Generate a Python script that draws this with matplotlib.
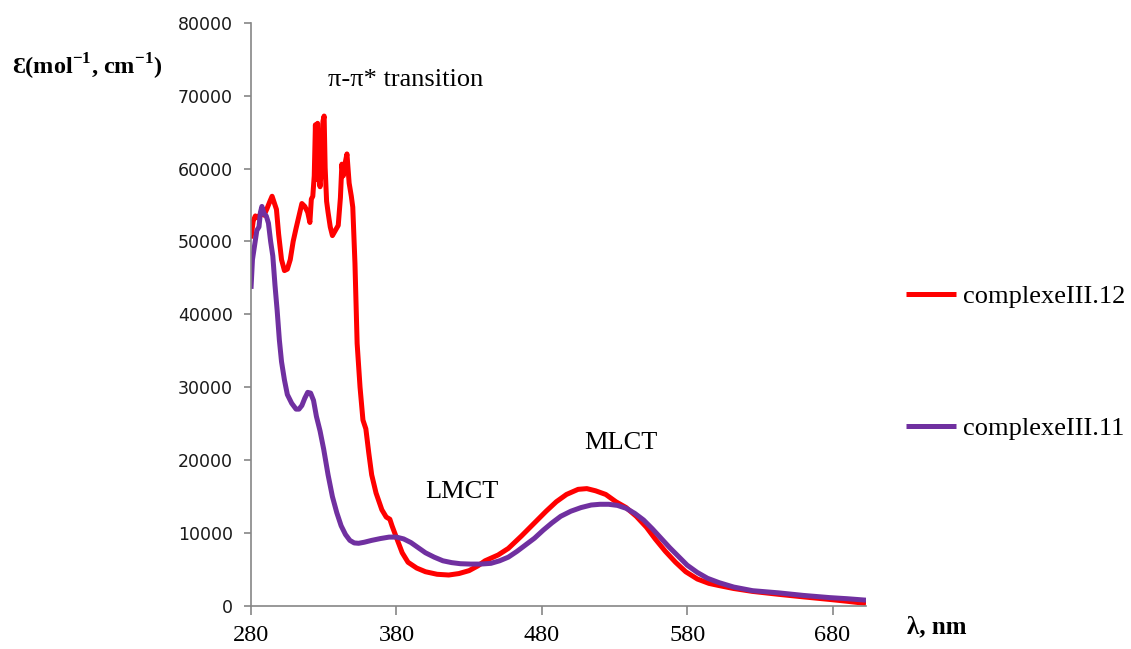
import matplotlib
matplotlib.use("Agg")
import matplotlib.pyplot as plt
from matplotlib.ticker import FixedLocator

plt.rcParams['mathtext.fontset'] = 'custom'
plt.rcParams['mathtext.rm'] = 'Liberation Serif'
plt.rcParams['mathtext.bf'] = 'Liberation Serif:bold'

# Absorption spectrum of complexe III.12 (wavelength in nm, epsilon)
wl_12 = [280, 281.5, 283, 285, 287, 289, 291, 293, 294.5, 296, 297.5, 299, 301, 303,
         305, 307, 309, 311, 313, 315, 317, 319, 320.5, 321.5, 322.5, 323.5, 324.3,
         325, 325.8, 326.6, 327.5, 328.5, 329.5, 330.3, 331, 332, 333, 334.5, 336,
         338, 340, 341.5, 342.5, 343.5, 345, 346, 347.5, 349, 350, 351.5, 353, 355,
         357, 359, 361, 363, 366, 370, 373, 375.5, 377, 380, 384, 388, 394, 400,
         408, 416, 423, 430, 436, 441, 450, 457, 466, 475, 483, 490, 497, 505, 511,
         517, 524, 531, 538, 545, 552, 558, 565, 572, 579, 587, 595, 602, 612, 625,
         643, 660, 678, 690, 703]
eps_12 = [50400, 52800, 53500, 53200, 54000, 53600, 54500, 55500, 56200, 55300, 54400,
          51000, 47500, 46000, 46200, 47500, 50000, 51800, 53500, 55200, 54800, 54000,
          52600, 55800, 56200, 59000, 66000, 58500, 66200, 59000, 57500, 60500, 66500,
          67200, 60100, 55500, 54000, 52000, 50800, 51500, 52200, 56000, 60600, 59000,
          61000, 62000, 58000, 56200, 54700, 47000, 36000, 30000, 25500, 24300, 21000,
          18000, 15500, 13200, 12200, 11900, 11000, 9400, 7300, 6000, 5200, 4700,
          4350, 4250, 4450, 4850, 5500, 6200, 7000, 7900, 9600, 11400, 13000, 14300,
          15300, 16000, 16100, 15800, 15300, 14300, 13500, 12300, 10800, 9200, 7500,
          6000, 4700, 3700, 3100, 2800, 2400, 2000, 1600, 1250, 900, 650, 350]

# Absorption spectrum of complexe III.11
wl_11 = [280, 281, 282.5, 284, 285.5, 286.5, 287.5, 289, 290.5, 292, 293.5, 295, 296.5,
         298, 299.5, 301, 303, 305, 308, 311, 313, 315, 317, 319, 321, 323, 325, 327.5,
         330, 333, 336, 339, 342, 345, 348, 351, 354, 358, 363, 369, 375, 380, 385,
         390, 395, 400, 406, 412, 418, 424, 431, 438, 445, 451, 457, 463, 469, 475,
         481, 487, 493, 500, 507, 514, 520, 526, 532, 538, 544, 550, 556, 562, 568,
         574, 580, 587, 594, 602, 612, 625, 643, 660, 678, 690, 703]
eps_11 = [43500, 47500, 49500, 51500, 52000, 54000, 54800, 53800, 53500, 52500, 50000,
          48000, 44000, 40500, 36500, 33500, 31000, 29000, 27800, 27000, 27000, 27500,
          28500, 29300, 29200, 28200, 26000, 24000, 21500, 18000, 15000, 12800, 11000,
          9800, 9000, 8650, 8600, 8750, 9000, 9250, 9450, 9450, 9200, 8700, 8000, 7300,
          6700, 6200, 5950, 5800, 5750, 5750, 5850, 6200, 6700, 7500, 8400, 9300, 10400,
          11400, 12300, 13000, 13500, 13850, 13950, 13950, 13800, 13400, 12700, 11800,
          10600, 9300, 8000, 6800, 5600, 4600, 3800, 3200, 2600, 2100, 1800, 1450,
          1150, 1000, 800]

x_ticks = [280, 380, 480, 580, 680]
y_ticks = [0, 10000, 20000, 30000, 40000, 50000, 60000, 70000, 80000]

RED = '#FF0000'
PURPLE = '#7030A0'
AXIS_GREY = '#868686'
SERIF = ['Liberation Serif', 'DejaVu Serif']

W, H = 1131, 649
fig = plt.figure(figsize=(W / 100, H / 100), dpi=100)
ax = fig.add_axes([251 / W, 1 - 606 / H, (866 - 251) / W, (606 - 22.7) / H])

l12, = ax.plot(wl_12, eps_12, color=RED, lw=3.6, solid_capstyle='butt',
               label='complexeIII.12')
l11, = ax.plot(wl_11, eps_11, color=PURPLE, lw=3.6, solid_capstyle='butt',
               label='complexeIII.11')

ax.set_xlim(280, 703)
ax.set_ylim(0, 80000)
ax.xaxis.set_major_locator(FixedLocator(x_ticks))
ax.yaxis.set_major_locator(FixedLocator(y_ticks))

for side in ('top', 'right'):
    ax.spines[side].set_visible(False)
for side in ('left', 'bottom'):
    ax.spines[side].set_color(AXIS_GREY)
    ax.spines[side].set_linewidth(1.2)

ax.tick_params(axis='x', direction='out', length=6.5, width=1.2, color=AXIS_GREY,
               pad=7.5, labelsize=17.5, labelcolor='black')
ax.tick_params(axis='y', direction='out', length=5, width=1.2, color=AXIS_GREY,
               pad=8, labelsize=12.5, labelcolor='#1a1a1a')
for lab in ax.get_xticklabels():
    lab.set_fontfamily(SERIF)
for lab in ax.get_yticklabels():
    lab.set_fontfamily('DejaVu Sans')

# Axis titles
fig.text(12 / W, 1 - 67 / H, 'Ɛ(mol$^{\\mathbf{-1}}$, cm$^{\\mathbf{-1}}$)',
         fontsize=17.5, fontweight='bold', family=SERIF, ha='left', va='center')
fig.text(907 / W, 1 - 627 / H, 'λ, nm', fontsize=18, fontweight='bold',
         family=SERIF, ha='left', va='center')

# Band assignments
ax.text(386.6, 72100, 'π-π* transition', fontsize=19, family=SERIF,
        ha='center', va='center')
ax.text(425, 15600, 'LMCT', fontsize=19, family=SERIF, ha='center', va='center')
ax.text(534.5, 22300, 'MLCT', fontsize=19, family=SERIF, ha='center', va='center')

leg = fig.legend(handles=[l12, l11], loc='upper left',
                 bbox_to_anchor=(906 / W, 1 - 285 / H), frameon=False,
                 prop={'family': SERIF, 'size': 19}, handlelength=1.9,
                 handletextpad=0.25, labelspacing=4.1, borderpad=0,
                 borderaxespad=0)

fig.savefig('out.png', dpi=100)
